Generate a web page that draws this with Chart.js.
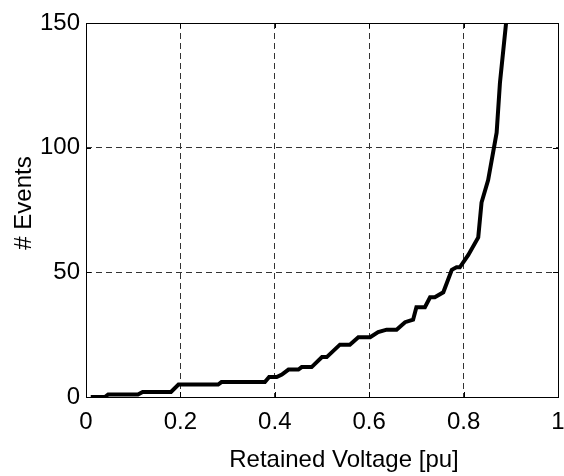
<!DOCTYPE html>
<html lang="en">
<head>
    <meta charset="UTF-8">
    <title>Retained Voltage</title>
    <style>
        body {
            margin: 0;
            background-color: #fff;
        }
        .chart-container {
            width: 564px;
            height: 476px;
        }
    </style>
    <script src="https://cdn.jsdelivr.net/npm/chart.js"></script>
</head>
<body>
    <div class="chart-container">
        <canvas id="voltageChart" width="564" height="476"></canvas>
    </div>
    <script>
        // cumulative event count against retained voltage
        const voltage = [0.01, 0.04, 0.047, 0.11, 0.12, 0.18, 0.196, 0.28, 0.287, 0.379,
            0.388, 0.404, 0.415, 0.429, 0.45, 0.457, 0.478, 0.5, 0.51, 0.538,
            0.559, 0.577, 0.602, 0.619, 0.637, 0.658, 0.676, 0.693, 0.70, 0.718,
            0.729, 0.739, 0.757, 0.775, 0.785, 0.792, 0.81, 0.831, 0.838, 0.852,
            0.87, 0.877, 0.89];
        const events = [0, 0, 1, 1, 2, 2, 5, 5, 6, 6,
            8, 8, 9, 11, 11, 12, 12, 16, 16, 21,
            21, 24, 24, 26, 27, 27, 30, 31, 36, 36,
            40, 40, 42, 51, 52, 52, 57, 64, 78, 87,
            106, 126, 150];

        const xTicks = [0, 0.2, 0.4, 0.6, 0.8, 1];
        const yTicks = [0, 50, 100, 150];
        const xTitle = 'Retained Voltage [pu]';
        const yTitle = '# Events';

        const points = voltage.map((v, i) => ({ x: v, y: events[i] }));

        const fontFamily = 'Liberation Sans, Arial, sans-serif';
        const font = { family: fontFamily, size: 24 };

        // box around the plot, short inward tick marks and the axis titles
        const axesBox = {
            id: 'axesBox',
            afterDraw(chart) {
                const { ctx, chartArea: a, scales } = chart;
                ctx.save();
                ctx.strokeStyle = '#000';
                ctx.lineWidth = 1;
                ctx.beginPath();
                xTicks.forEach(t => {
                    const px = Math.round(scales.x.getPixelForValue(t)) + 0.5;
                    ctx.moveTo(px, a.bottom);
                    ctx.lineTo(px, a.bottom - 5);
                    ctx.moveTo(px, a.top);
                    ctx.lineTo(px, a.top + 5);
                });
                yTicks.forEach(t => {
                    const py = Math.round(scales.y.getPixelForValue(t)) + 0.5;
                    ctx.moveTo(a.left, py);
                    ctx.lineTo(a.left + 5, py);
                    ctx.moveTo(a.right, py);
                    ctx.lineTo(a.right - 5, py);
                });
                ctx.stroke();
                ctx.strokeRect(Math.round(a.left) + 0.5, Math.round(a.top) + 0.5,
                    Math.round(a.right - a.left), Math.round(a.bottom - a.top));

                ctx.fillStyle = '#000';
                ctx.font = font.size + 'px ' + fontFamily;
                ctx.textAlign = 'center';
                ctx.textBaseline = 'middle';
                ctx.fillText(xTitle, (a.left + a.right) / 2 + 22, a.bottom + 63);
                ctx.translate(24, (a.top + a.bottom) / 2 - 7);
                ctx.rotate(-Math.PI / 2);
                ctx.fillText(yTitle, 0, 0);
                ctx.restore();
            }
        };

        const gridOpts = {
            color: ctx => (ctx.index === 0 || ctx.index === ctx.chart.scales[ctx.scale.id].ticks.length - 1) ? 'rgba(0,0,0,0)' : '#333',
            lineWidth: 1,
            drawTicks: false
        };

        new Chart(document.getElementById('voltageChart'), {
            type: 'line',
            data: {
                datasets: [{
                    data: points,
                    borderColor: '#000',
                    borderWidth: 4,
                    pointRadius: 0,
                    fill: false,
                    tension: 0
                }]
            },
            options: {
                responsive: false,
                animation: false,
                layout: { padding: { top: 23, right: 0 } },
                plugins: {
                    legend: { display: false },
                    tooltip: { enabled: false }
                },
                scales: {
                    x: {
                        type: 'linear',
                        min: 0,
                        max: 1,
                        afterBuildTicks: scale => { scale.ticks = xTicks.map(v => ({ value: v })); },
                        afterFit: scale => {
                            scale.height = 79;
                            scale.paddingLeft = 0;
                            scale.paddingRight = 6;
                        },
                        ticks: {
                            color: '#000',
                            font: font,
                            padding: 11,
                            maxRotation: 0,
                            callback: v => String(v)
                        },
                        grid: gridOpts,
                        border: { display: false, dash: [6, 4] }
                    },
                    y: {
                        min: 0,
                        max: 150,
                        afterBuildTicks: scale => { scale.ticks = yTicks.map(v => ({ value: v })); },
                        afterFit: scale => { scale.width = 86; },
                        ticks: {
                            color: '#000',
                            font: font,
                            padding: 6
                        },
                        grid: gridOpts,
                        border: { display: false, dash: [6, 4] }
                    }
                }
            },
            plugins: [axesBox]
        });
    </script>
</body>
</html>
